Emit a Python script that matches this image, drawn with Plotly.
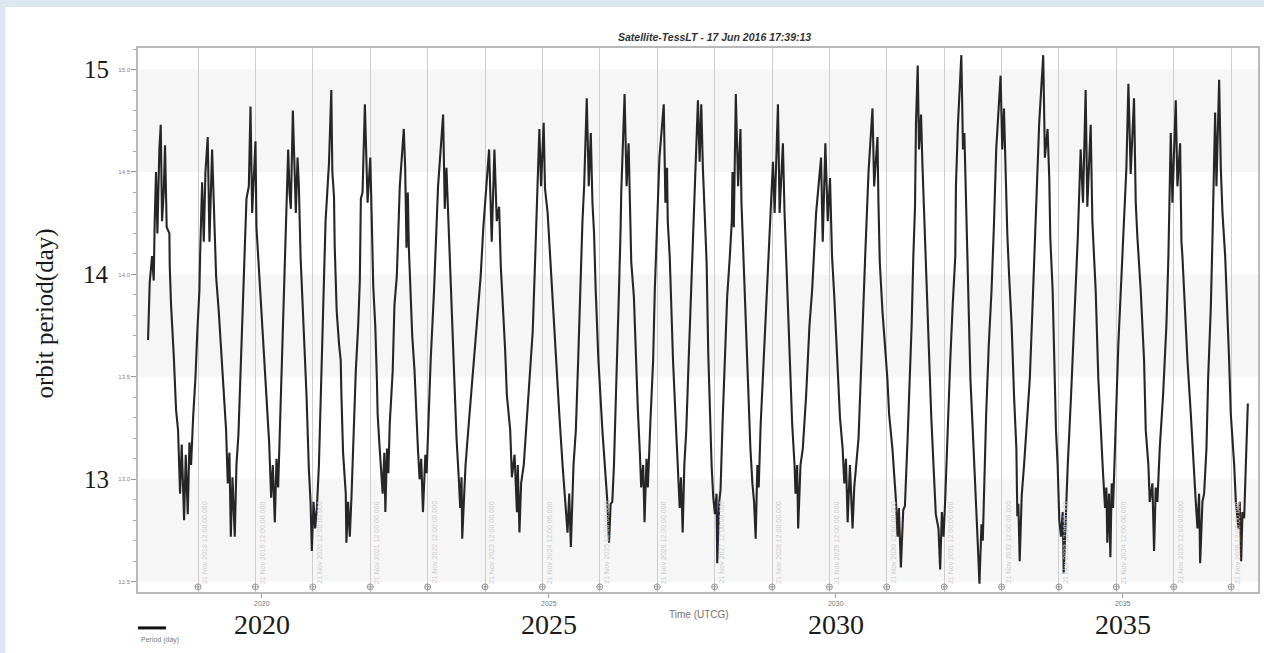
import datetime
import plotly.graph_objects as go

# ---------------- data ----------------
YEARS = [
    2018.018, 2018.047, 2018.088, 2018.117, 2018.134, 2018.157, 2018.181, 2018.215, 2018.239, 2018.262,
    2018.291, 2018.314, 2018.343, 2018.390, 2018.396, 2018.419, 2018.465, 2018.506, 2018.541, 2018.576,
    2018.605, 2018.646, 2018.675, 2018.710, 2018.739, 2018.768, 2018.803, 2018.843, 2018.878, 2018.913,
    2018.925, 2018.960, 2018.989, 2019.018, 2019.058, 2019.088, 2019.134, 2019.169, 2019.204, 2019.250,
    2019.285, 2019.338, 2019.378, 2019.407, 2019.436, 2019.460, 2019.489, 2019.529, 2019.558, 2019.593,
    2019.634, 2019.680, 2019.710, 2019.733, 2019.774, 2019.803, 2019.832, 2019.861, 2019.890, 2019.907,
    2019.936, 2019.983, 2020.024, 2020.082, 2020.128, 2020.163, 2020.192, 2020.227, 2020.256, 2020.285,
    2020.326, 2020.367, 2020.413, 2020.460, 2020.483, 2020.506, 2020.541, 2020.570, 2020.593, 2020.623,
    2020.646, 2020.675, 2020.704, 2020.739, 2020.779, 2020.820, 2020.849, 2020.872, 2020.901, 2020.930,
    2020.960, 2020.995, 2021.029, 2021.070, 2021.111,
    2021.170, 2021.211, 2021.229, 2021.258, 2021.270, 2021.305, 2021.346, 2021.375, 2021.387, 2021.416,
    2021.463, 2021.474, 2021.504, 2021.533, 2021.562, 2021.585, 2021.621, 2021.638, 2021.679, 2021.708,
    2021.726, 2021.755, 2021.796, 2021.819, 2021.843, 2021.890, 2021.901, 2021.919, 2021.942, 2021.977,
    2022.006, 2022.018, 2022.047, 2022.077, 2022.106, 2022.135, 2022.153, 2022.182, 2022.205, 2022.229,
    2022.281, 2022.311, 2022.352, 2022.381, 2022.404, 2022.474, 2022.498, 2022.521, 2022.544, 2022.562,
    2022.591, 2022.621, 2022.661, 2022.691, 2022.720, 2022.749, 2022.778, 2022.808, 2022.849, 2022.872,
    2022.907, 2022.942, 2023.001, 2023.042, 2023.071, 2023.159, 2023.188, 2023.217, 2023.246, 2023.275,
    2023.305, 2023.334, 2023.363, 2023.393, 2023.433, 2023.457, 2023.480, 2023.492, 2023.527, 2023.550,
    2023.597, 2023.667, 2023.732, 2023.813, 2023.860, 2023.960, 2024.006, 2024.053, 2024.094, 2024.135,
    2024.164, 2024.211, 2024.240, 2024.270, 2024.328, 2024.357, 2024.404, 2024.445,
    2024.460, 2024.489, 2024.518, 2024.564, 2024.605, 2024.680, 2024.720, 2024.761, 2024.778, 2024.795,
    2024.836, 2024.865, 2024.911, 2024.934, 2024.980, 2025.009, 2025.038, 2025.067, 2025.125, 2025.183,
    2025.240, 2025.281, 2025.327, 2025.356, 2025.385, 2025.431, 2025.472, 2025.512, 2025.547, 2025.587,
    2025.616, 2025.662, 2025.697, 2025.732, 2025.761, 2025.789, 2025.818, 2025.865, 2025.934, 2025.974,
    2026.021, 2026.050, 2026.078, 2026.107, 2026.136, 2026.165, 2026.194, 2026.223, 2026.252, 2026.263,
    2026.321, 2026.356, 2026.391, 2026.414, 2026.437, 2026.483, 2026.512, 2026.552, 2026.587, 2026.610,
    2026.645, 2026.668, 2026.703, 2026.726, 2026.772, 2026.818, 2026.847, 2026.888, 2026.928, 2027.003,
    2027.032, 2027.061, 2027.073, 2027.107, 2027.131, 2027.165, 2027.206, 2027.246, 2027.281, 2027.304,
    2027.333, 2027.362, 2027.396, 2027.437, 2027.466, 2027.495, 2027.524, 2027.570, 2027.599, 2027.628,
    2027.657, 2027.685,
    2027.750, 2027.779, 2027.808, 2027.837, 2027.866, 2027.895, 2027.923, 2027.935, 2027.970, 2027.993,
    2028.027, 2028.068, 2028.108, 2028.155, 2028.189, 2028.201, 2028.224, 2028.259, 2028.299, 2028.340,
    2028.357, 2028.386, 2028.415, 2028.444, 2028.473, 2028.513, 2028.548, 2028.577, 2028.605, 2028.634,
    2028.658, 2028.692, 2028.744, 2028.802, 2028.837, 2028.906, 2028.935, 2028.993, 2029.022, 2029.079,
    2029.108, 2029.137, 2029.166, 2029.207, 2029.241, 2029.282, 2029.299, 2029.328, 2029.345, 2029.386,
    2029.426, 2029.484, 2029.542, 2029.588, 2029.658, 2029.744, 2029.773, 2029.819, 2029.860, 2029.900,
    2029.935, 2029.975, 2030.033, 2030.074, 2030.120, 2030.149, 2030.178, 2030.207, 2030.247, 2030.293,
    2030.322, 2030.397, 2030.438, 2030.478, 2030.513, 2030.571, 2030.640, 2030.669, 2030.727, 2030.744,
    2030.767, 2030.814, 2030.900, 2030.929, 2030.987,
    2031.048, 2031.077, 2031.100, 2031.135, 2031.176, 2031.205, 2031.252, 2031.293, 2031.322, 2031.352,
    2031.381, 2031.398, 2031.428, 2031.451, 2031.486, 2031.510, 2031.545, 2031.586, 2031.626, 2031.662,
    2031.703, 2031.743, 2031.790, 2031.819, 2031.849, 2031.878, 2031.907, 2031.936, 2031.995, 2032.036,
    2032.083, 2032.094, 2032.129, 2032.188, 2032.217, 2032.241, 2032.270, 2032.287, 2032.305, 2032.346,
    2032.387, 2032.434, 2032.463, 2032.504, 2032.539, 2032.562, 2032.597, 2032.621, 2032.667, 2032.714,
    2032.755, 2032.796, 2032.872, 2032.901, 2032.931, 2032.960, 2032.989, 2033.018, 2033.065, 2033.106,
    2033.147, 2033.164, 2033.182, 2033.205, 2033.240, 2033.281, 2033.322, 2033.381, 2033.428, 2033.457,
    2033.515, 2033.545, 2033.615, 2033.644, 2033.691, 2033.720, 2033.738, 2033.779, 2033.808, 2033.837,
    2033.866, 2033.895, 2033.925, 2033.954, 2033.972, 2034.001, 2034.042, 2034.100, 2034.141, 2034.188,
    2034.217,
    2034.267, 2034.308, 2034.354, 2034.383, 2034.442, 2034.471, 2034.500, 2034.529, 2034.575, 2034.616,
    2034.657, 2034.692, 2034.715, 2034.732, 2034.761, 2034.785, 2034.808, 2034.831, 2034.878, 2034.924,
    2034.994, 2035.040, 2035.064, 2035.099, 2035.139, 2035.197, 2035.227, 2035.256, 2035.314, 2035.372,
    2035.401, 2035.447, 2035.471, 2035.517, 2035.546, 2035.575, 2035.604, 2035.645, 2035.703, 2035.761,
    2035.796, 2035.837, 2035.866, 2035.924, 2035.953, 2036.000, 2036.023, 2036.040, 2036.070, 2036.128,
    2036.186, 2036.244, 2036.273, 2036.302, 2036.331, 2036.349, 2036.389, 2036.418, 2036.459, 2036.488,
    2036.535, 2036.564, 2036.581, 2036.610, 2036.633, 2036.680, 2036.709, 2036.738, 2036.785, 2036.825,
    2036.854, 2036.883, 2036.942, 2036.971, 2037.017, 2037.040, 2037.064, 2037.087, 2037.116, 2037.145,
    2037.180,
]

PERIOD = [
    13.68, 13.96, 14.09, 13.97, 14.26, 14.50, 14.20, 14.61, 14.73, 14.26,
    14.40, 14.63, 14.23, 14.20, 14.04, 13.85, 13.61, 13.34, 13.24, 12.93,
    13.17, 12.80, 13.12, 12.83, 13.18, 13.07, 13.30, 13.49, 13.73, 13.92,
    14.09, 14.45, 14.16, 14.50, 14.67, 14.16, 14.61, 14.30, 13.99, 13.82,
    13.66, 13.37, 13.24, 12.98, 13.13, 12.72, 13.01, 12.72, 13.07, 13.22,
    13.54, 13.94, 14.21, 14.37, 14.43, 14.82, 14.30, 14.47, 14.65, 14.23,
    14.09, 13.92, 13.70, 13.41, 13.18, 12.91, 13.07, 12.79, 13.10, 12.96,
    13.36, 13.66, 14.09, 14.61, 14.40, 14.32, 14.80, 14.50, 14.30, 14.57,
    14.43, 14.09, 13.89, 13.72, 13.41, 13.05, 12.89, 12.65, 12.89, 12.76,
    12.86, 13.07, 13.41, 13.92, 14.26,
    14.54, 14.90, 14.50, 14.38, 14.14, 13.82, 13.66, 13.58, 13.41, 13.13,
    12.93, 12.69, 12.89, 12.72, 12.91, 13.13, 13.41, 13.53, 13.75, 13.97,
    14.37, 14.40, 14.83, 14.52, 14.35, 14.57, 14.38, 14.23, 13.94, 13.75,
    13.48, 13.32, 13.18, 13.03, 12.93, 13.13, 12.84, 13.15, 13.03, 13.27,
    13.53, 13.85, 13.99, 14.23, 14.43, 14.71, 14.52, 14.13, 14.40, 14.13,
    13.92, 13.70, 13.53, 13.30, 13.15, 13.00, 13.10, 12.84, 13.12, 13.03,
    13.29, 13.58, 13.92, 14.18, 14.43, 14.78, 14.32, 14.52, 14.30, 14.06,
    13.82, 13.58, 13.41, 13.20, 13.00, 12.86, 13.01, 12.71, 12.93, 13.07,
    13.24, 13.48, 13.72, 13.99, 14.23, 14.61, 14.16, 14.61, 14.26, 14.33,
    14.04, 13.82, 13.63, 13.41, 13.24, 13.01, 13.12, 12.84,
    13.07, 12.74, 12.98, 13.07, 13.24, 13.51, 13.72, 14.06, 14.20, 14.38,
    14.71, 14.43, 14.74, 14.42, 14.30, 14.16, 14.01, 13.89, 13.58, 13.32,
    13.07, 12.89, 12.74, 12.93, 12.67, 13.07, 13.24, 13.58, 13.92, 14.26,
    14.43, 14.86, 14.43, 14.69, 14.35, 14.20, 13.92, 13.58, 13.24, 13.07,
    12.89, 12.69, 12.88, 12.89, 13.07, 13.36, 13.61, 13.92, 14.23, 14.40,
    14.88, 14.43, 14.64, 14.26, 14.06, 13.89, 13.61, 13.34, 13.13, 12.96,
    13.07, 12.79, 13.10, 12.96, 13.29, 13.58, 13.92, 14.30, 14.57, 14.83,
    14.35, 14.52, 14.26, 14.09, 13.84, 13.58, 13.32, 13.07, 12.86, 13.01,
    12.74, 13.07, 13.24, 13.58, 13.82, 14.06, 14.23, 14.61, 14.85, 14.55,
    14.83, 14.52,
    14.06, 13.61, 13.32, 13.07, 12.91, 12.83, 12.93, 12.59, 12.89, 12.95,
    13.27, 13.58, 13.89, 14.09, 14.26, 14.50, 14.23, 14.88, 14.43, 14.71,
    14.35, 14.13, 13.92, 13.66, 13.41, 13.15, 12.98, 12.89, 12.71, 13.07,
    12.96, 13.27, 13.58, 13.92, 14.09, 14.55, 14.30, 14.83, 14.30, 14.64,
    14.30, 14.09, 13.84, 13.58, 13.27, 13.07, 12.93, 13.07, 12.76, 13.07,
    13.15, 13.41, 13.75, 13.92, 14.30, 14.57, 14.16, 14.64, 14.26, 14.47,
    14.09, 13.89, 13.58, 13.30, 13.15, 12.98, 13.10, 12.79, 13.07, 12.76,
    12.96, 13.20, 13.51, 13.78, 14.09, 14.50, 14.81, 14.43, 14.67, 14.35,
    14.06, 13.82, 13.49, 13.32, 13.15,
    12.90, 12.72, 12.86, 12.57, 12.85, 12.87, 13.20, 13.49, 13.75, 14.09,
    14.33, 14.74, 15.02, 14.61, 14.78, 14.54, 14.26, 13.96, 13.58, 13.32,
    13.07, 12.83, 12.76, 12.56, 12.84, 12.72, 12.90, 13.15, 13.58, 13.84,
    14.09, 14.43, 14.73, 15.07, 14.61, 14.69, 14.32, 14.16, 13.92, 13.49,
    13.24, 12.98, 12.76, 12.49, 12.78, 12.70, 13.07, 13.32, 13.66, 13.92,
    14.23, 14.61, 14.97, 14.61, 14.81, 14.43, 14.20, 14.01, 13.75, 13.41,
    13.15, 12.82, 12.88, 12.60, 12.92, 13.07, 13.24, 13.49, 13.84, 14.09,
    14.52, 14.74, 15.07, 14.57, 14.71, 14.47, 14.18, 13.92, 13.58, 13.24,
    13.07, 12.80, 12.72, 12.84, 12.54, 12.76, 13.07, 13.41, 13.66, 14.01,
    14.18,
    14.61, 14.35, 14.90, 14.33, 14.73, 14.26, 14.09, 13.92, 13.49, 13.24,
    13.03, 12.86, 12.96, 12.69, 12.93, 12.62, 12.98, 12.86, 13.24, 13.66,
    14.09, 14.43, 14.52, 14.93, 14.49, 14.86, 14.35, 14.18, 13.92, 13.58,
    13.24, 13.07, 12.89, 12.98, 12.65, 12.96, 12.89, 13.15, 13.41, 13.75,
    14.09, 14.69, 14.35, 14.85, 14.43, 14.64, 14.16, 14.09, 13.89, 13.58,
    13.32, 13.07, 12.89, 12.76, 12.93, 12.59, 12.89, 12.93, 13.15, 13.49,
    13.84, 14.18, 14.47, 14.79, 14.43, 14.95, 14.52, 14.30, 14.09, 13.84,
    13.58, 13.32, 13.07, 12.89, 12.76, 12.89, 12.60, 12.84, 12.81, 13.07,
    13.37,
]

X_TICKS = [2020, 2025, 2030, 2035]
Y_TICKS = [12.5, 13.0, 13.5, 14.0, 14.5, 15.0]
BIG_Y_LABELS = [15, 14, 13]
BIG_X_LABELS = [2020, 2025, 2030, 2035]
GRID_DATES = [datetime.date(y, 11, 21) for y in range(2018, 2037)]
SHADED_BANDS = [(12.5, 13.0), (13.5, 14.0), (14.5, 15.0)]

TITLE = "Satellite-TessLT - 17 Jun 2016 17:39:13"
SERIES_NAME = "Period (day)"


def decimal_year(d):
    start = datetime.date(d.year, 1, 1)
    n = (datetime.date(d.year + 1, 1, 1) - start).days
    return d.year + ((d - start).days + 0.5) / n


GRID_X = [decimal_year(d) for d in GRID_DATES]
GRID_TEXT = [d.strftime("%d %b %Y") + " 12:00:00.000" for d in GRID_DATES]

SERIF = "Liberation Serif, Times New Roman, serif"
SANS = "Liberation Sans, Arial, sans-serif"
BORDER_BLUE = "#dce7f1"

fig = go.Figure()

fig.add_trace(go.Scatter(
    x=YEARS, y=PERIOD, mode="lines", name=SERIES_NAME,
    line=dict(color="#262626", width=2.1),
    xaxis="x", yaxis="y", showlegend=False, hoverinfo="x+y",
))

# circle markers at the foot of each yearly grid line
fig.add_trace(go.Scatter(
    x=GRID_X, y=[12.475] * len(GRID_X), mode="markers",
    marker=dict(symbol="circle-cross-open", size=6, color="#9a9a9a",
                line=dict(width=1, color="#9a9a9a")),
    xaxis="x2", yaxis="y", showlegend=False, hoverinfo="skip",
))

X_RANGE = [2017.843, 2037.357]
Y_RANGE = [12.45, 15.105]

shapes = [
    # white page over the pale blue border
    dict(type="rect", xref="paper", yref="paper", x0=-0.1185, x1=1.01, y0=-0.2, y1=1.0754,
         fillcolor="white", line=dict(width=0), layer="below"),
]
for lo, hi in SHADED_BANDS:
    shapes.append(dict(type="rect", xref="paper", yref="y", x0=0, x1=1, y0=lo, y1=hi,
                       fillcolor="#f6f6f6", line=dict(width=0), layer="below"))
# legend sample line
shapes.append(dict(type="line", xref="paper", yref="paper", x0=0.0, x1=0.025,
                   y0=-0.066, y1=-0.066, line=dict(color="#111111", width=3)))

annotations = [
    dict(text="<b><i>" + TITLE + "</i></b>", xref="paper", yref="paper", x=0.515, y=1,
         yshift=11, showarrow=False, font=dict(family=SANS, size=10.5, color="#333333"),
         xanchor="center", yanchor="middle"),
    dict(text="Time (UTCG)", xref="paper", yref="paper", x=(700 - 138) / 1122, y=0,
         yshift=-22, showarrow=False, font=dict(family=SANS, size=10, color="#7a6f6f"),
         xanchor="center", yanchor="middle"),
    dict(text=SERIES_NAME, xref="paper", yref="paper", x=0.001, y=-0.088,
         showarrow=False, font=dict(family=SANS, size=7, color="#777777"),
         xanchor="left", yanchor="middle"),
    dict(text="orbit period(day)", xref="paper", yref="paper", x=0, xshift=-93, y=0.512,
         showarrow=False, textangle=-90, font=dict(family=SERIF, size=25, color="#1a1a1a"),
         xanchor="center", yanchor="middle"),
]
for v in BIG_Y_LABELS:
    annotations.append(dict(text=str(v), xref="paper", yref="y", x=0, xshift=-27, y=v,
                            showarrow=False, font=dict(family=SERIF, size=25, color="#1a1a1a"),
                            xanchor="right", yanchor="middle"))
for v in BIG_X_LABELS:
    annotations.append(dict(text=str(v), xref="x", yref="paper", x=v, y=0, yshift=-32,
                            showarrow=False, font=dict(family=SERIF, size=28, color="#1a1a1a"),
                            xanchor="center", yanchor="middle"))
for gx, gt in zip(GRID_X, GRID_TEXT):
    annotations.append(dict(text=gt, xref="x2", yref="y", x=gx, y=12.48, xshift=1,
                            showarrow=False, textangle=-90,
                            font=dict(family=SANS, size=7, color="#cccccc"),
                            xanchor="left", yanchor="bottom"))

fig.update_layout(
    width=1264, height=653, autosize=False,
    margin=dict(l=138, r=4, t=48, b=61, pad=0),
    paper_bgcolor=BORDER_BLUE, plot_bgcolor="white",
    showlegend=False,
    xaxis=dict(
        range=X_RANGE, tickvals=X_TICKS, ticktext=[str(t) for t in X_TICKS],
        tickfont=dict(family=SANS, size=7, color="#777777"),
        ticks="outside", ticklen=4, tickcolor="#999999",
        showgrid=False, zeroline=False,
        showline=True, mirror=True, linecolor="#b9b9b9", linewidth=1.5,
    ),
    xaxis2=dict(
        range=X_RANGE, overlaying="x", anchor="y", side="bottom",
        tickvals=GRID_X, showticklabels=False, ticks="",
        showgrid=True, gridcolor="#cdcdcd", gridwidth=1,
        zeroline=False, showline=False,
    ),
    yaxis=dict(
        range=Y_RANGE, tickvals=Y_TICKS, ticktext=["%.1f" % t for t in Y_TICKS],
        tickfont=dict(family=SANS, size=6, color="#8a7d84"),
        ticks="outside", ticklen=5, tickcolor="#999999",
        minor=dict(tick0=12.5, dtick=0.1, ticks="outside", ticklen=3, tickcolor="#aaaaaa",
                   showgrid=False),
        showgrid=False, zeroline=False,
        showline=True, mirror=True, linecolor="#b9b9b9", linewidth=1.5,
    ),
    shapes=shapes,
    annotations=annotations,
)

fig.write_html(
    "out.html",
    config={"displayModeBar": False},
    post_script="document.body.style.margin='0';document.body.style.background='%s';" % BORDER_BLUE,
)
